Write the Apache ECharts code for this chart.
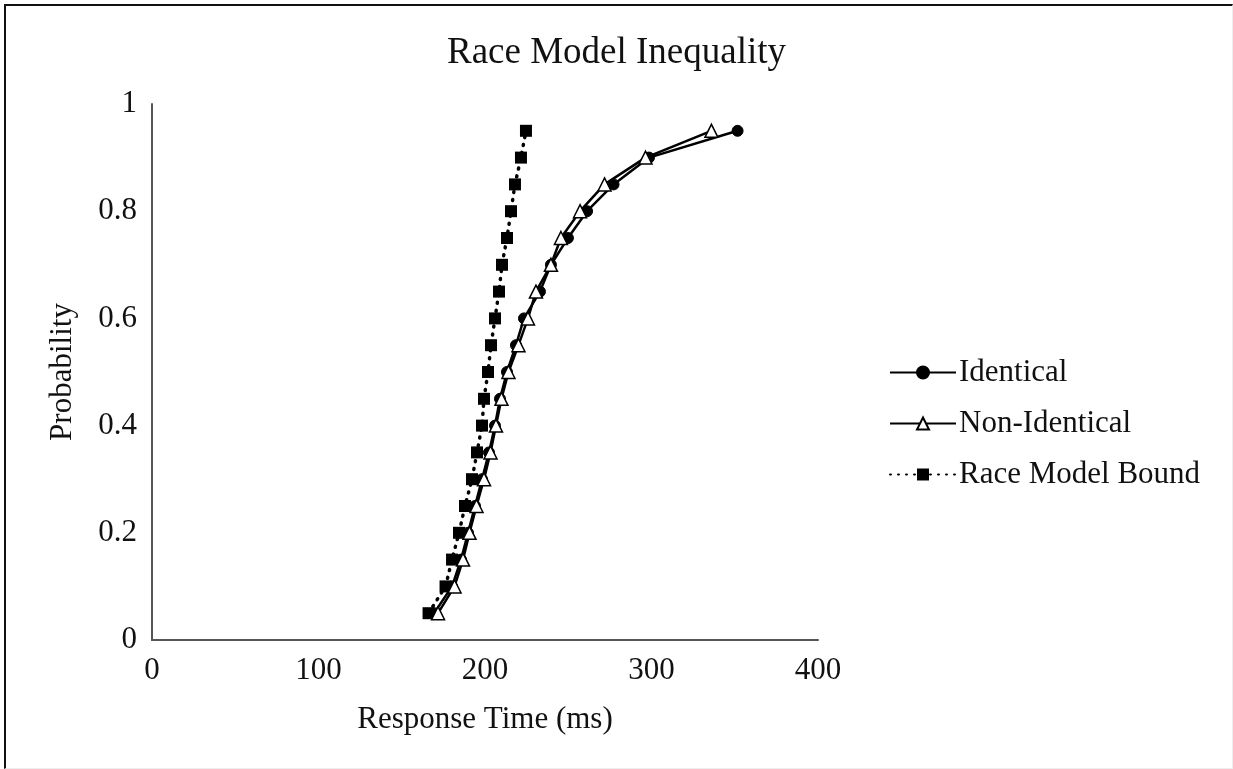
<!DOCTYPE html>
<html>
<head>
<meta charset="utf-8">
<title>Race Model Inequality</title>
<script src="https://cdn.jsdelivr.net/npm/echarts@6/dist/echarts.min.js"></script>
<style>
  html, body { margin: 0; padding: 0; background: #fff; }
  #frame {
    position: absolute; left: 4px; top: 4px; width: 1226px; height: 762px;
    border-left: 2px solid #111; border-top: 2px solid #111;
    border-right: 1px solid #eee; border-bottom: 1px solid #eee;
  }
  #chart { position: absolute; left: 0; top: 0; width: 1233px; height: 769px; }
</style>
</head>
<body>
<div id="frame"></div>
<div id="chart"></div>
<script>
// probability levels (shared by all three curves)
const probs = [0.05, 0.10, 0.15, 0.20, 0.25, 0.30, 0.35, 0.40, 0.45, 0.50,
               0.55, 0.60, 0.65, 0.70, 0.75, 0.80, 0.85, 0.90, 0.95];

// response times (ms)
const identical = [169.4, 180.2, 185.6, 189.8, 194.0, 198.2, 202.4, 206.0, 209.0, 213.2,
                   218.6, 223.4, 233.0, 239.6, 249.8, 261.3, 277.2, 298.5, 351.7];
const nonIdentical = [171.8, 181.7, 186.8, 190.7, 194.9, 199.4, 203.3, 206.6, 209.9, 214.1,
                      220.1, 225.8, 230.6, 239.6, 245.6, 257.1, 271.8, 296.4, 336.0];
const raceBound = [166.1, 176.3, 180.2, 184.4, 188.0, 192.2, 195.2, 198.2, 199.4, 201.8,
                   203.6, 206.0, 208.4, 210.2, 213.2, 215.6, 218.0, 221.6, 224.6];

const seriesNames = ['Identical', 'Non-Identical', 'Race Model Bound'];

const pairs = (xs) => xs.map((x, i) => [x, probs[i]]);

const font = '"Liberation Serif", "DejaVu Serif", serif';

let myChart = echarts.init(document.getElementById('chart'));

myChart.setOption({
  animation: false,
  backgroundColor: 'transparent',
  title: {
    text: 'Race Model Inequality',
    left: 'center',
    top: 30,
    textStyle: { fontFamily: font, fontSize: 37, fontWeight: 'normal', color: '#111' }
  },
  legend: {
    orient: 'vertical',
    left: 884,
    top: 352,
    itemWidth: 66,
    itemHeight: 15,
    itemGap: 20,
    data: seriesNames,
    textStyle: { fontFamily: font, fontSize: 31, color: '#111', padding: [0, 0, 0, -2] }
  },
  grid: { left: 152, right: 415, top: 104, bottom: 129 },
  xAxis: {
    type: 'value',
    min: 0,
    max: 400,
    interval: 100,
    name: 'Response Time (ms)',
    nameLocation: 'middle',
    nameGap: 64,
    nameTextStyle: { fontFamily: font, fontSize: 31, color: '#111' },
    splitLine: { show: false },
    axisTick: { show: false },
    axisLine: { lineStyle: { color: '#555', width: 2 } },
    axisLabel: { margin: 15, fontFamily: font, fontSize: 31, color: '#111' }
  },
  yAxis: {
    type: 'value',
    min: 0,
    max: 1,
    interval: 0.2,
    name: 'Probability',
    nameLocation: 'middle',
    nameGap: 74,
    nameTextStyle: { fontFamily: font, fontSize: 31, color: '#111' },
    splitLine: { show: false },
    axisTick: { show: false },
    axisLine: { show: true, lineStyle: { color: '#555', width: 2 } },
    axisLabel: { margin: 15, fontFamily: font, fontSize: 31, color: '#111' }
  },
  series: [
    {
      name: seriesNames[0],
      type: 'line',
      data: pairs(identical),
      symbol: 'circle',
      symbolSize: 11,
      itemStyle: { color: '#000', borderColor: '#000', borderWidth: 1 },
      lineStyle: { color: '#000', width: 2.5 },
      z: 3
    },
    {
      name: seriesNames[1],
      type: 'line',
      data: pairs(nonIdentical),
      symbol: 'triangle',
      symbolSize: 13,
      itemStyle: { color: '#fff', borderColor: '#000', borderWidth: 1.5 },
      lineStyle: { color: '#000', width: 2.5 },
      z: 4
    },
    {
      name: seriesNames[2],
      type: 'line',
      data: pairs(raceBound),
      symbol: 'rect',
      symbolSize: 12,
      itemStyle: { color: '#000', borderColor: '#000', borderWidth: 0 },
      lineStyle: { color: '#000', width: 3.5, type: [1, 7], cap: 'round' },
      z: 2
    }
  ]
});

window.onresize = function () {
  myChart.resize();
};
</script>
</body>
</html>
